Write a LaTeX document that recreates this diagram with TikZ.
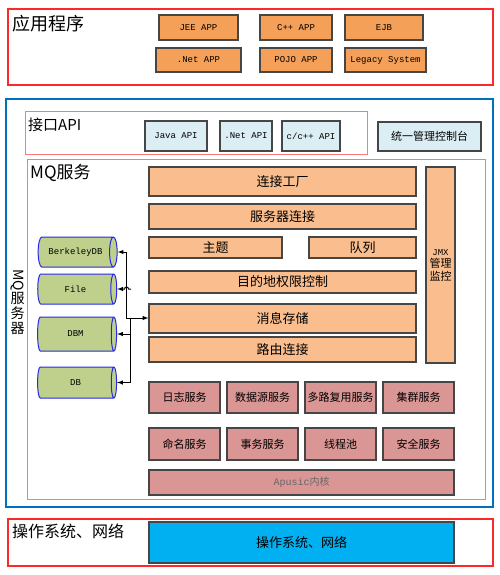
\documentclass[tikz,border=0pt]{standalone}
\usepackage{fontspec}
\setmainfont{Noto Sans CJK SC}
\setmonofont{Liberation Mono}
\usetikzlibrary{shapes.geometric}
\definecolor{apporange}{RGB}{244,160,88}
\definecolor{mqorange}{RGB}{250,190,142}
\definecolor{apiblue}{RGB}{219,238,244}
\definecolor{svcpink}{RGB}{218,150,148}
\definecolor{osblue}{RGB}{0,176,240}
\definecolor{cylgreen}{RGB}{190,208,140}
\definecolor{cylblue}{RGB}{40,40,235}
\definecolor{framered}{RGB}{255,40,40}
\definecolor{subred}{RGB}{255,120,120}
\definecolor{outerblue}{RGB}{0,112,192}
\definecolor{boxline}{RGB}{70,70,70}
\tikzset{>=latex}
\tikzset{
  wh/.style 2 args = {minimum width=#1, minimum height=#2},
  block/.style = {draw=boxline, line width=1.1pt, inner sep=0pt, align=center},
  appbox/.style = {block, fill=apporange, font=\ttfamily\fontsize{9}{10}\selectfont},
  apibox/.style = {block, fill=apiblue, font=\ttfamily\fontsize{9}{10}\selectfont},
  mqbox/.style = {block, fill=mqorange, font=\fontsize{13}{15}\selectfont},
  svcbox/.style = {block, fill=svcpink, font=\fontsize{11}{13}\selectfont},
  dbcyl/.style = {cylinder, draw=cylblue, fill=cylgreen, line width=1pt, aspect=0.9,
    inner sep=0pt, font=\ttfamily\fontsize{9}{10}\selectfont},
  frame/.style = {draw=framered, line width=1.6pt},
  subframe/.style = {draw=subred, line width=1pt},
  title/.style = {anchor=west, inner sep=0pt}
}

\begin{document}
\begin{tikzpicture}[x=1pt,y=-1pt]
  \useasboundingbox (0,0) rectangle (499,575);
  %
  \draw[frame] (8,9) rectangle (493,85);
  \node[title, font=\fontsize{18}{20}\selectfont] (apptitle) at (12,23.5) {应用程序};
  \node[appbox, wh={79}{25}] (jee) at (198.5,27.5) {JEE APP};
  \node[appbox, wh={72}{25}] (cpp) at (296,27.5) {C++ APP};
  \node[appbox, wh={78}{25}] (ejb) at (384,27.5) {EJB};
  \node[appbox, wh={85}{24}] (netapp) at (198.5,60) {.Net APP};
  \node[appbox, wh={72}{24}] (pojo) at (296,60) {POJO APP};
  \node[appbox, wh={81}{24}] (legacy) at (385.5,60) {Legacy System};
  %
  \draw[draw=outerblue, line width=2.4pt] (6,99) rectangle (493,507);
  \draw[subframe] (25,112) rectangle (367,154);
  \node[title, font=\fontsize{15}{17}\selectfont] (apititle) at (28,125) {接口API};
  \node[apibox, wh={62}{30}] (java) at (176,136) {Java API};
  \node[apibox, wh={52}{30}] (netapi) at (246,136) {.Net API};
  \node[apibox, wh={58}{30}] (capi) at (311,136) {c/c++ API};
  \node[apibox, wh={103}{29}, font=\fontsize{11}{13}\selectfont] (console) at (429.5,136.5) {统一管理控制台};
  %
  \node[inner sep=0pt, align=center, font=\fontsize{14}{15}\selectfont] (mqside) at (17.5,302)
    {\rotatebox{-90}{MQ}\\服\\务\\器};
  \draw[subframe] (27,159) rectangle (485,499);
  \node[title, font=\fontsize{17}{19}\selectfont] (mqtitle) at (30,172.5) {MQ服务};
  \node[mqbox, wh={267}{29}] (factory) at (282.5,181.5) {连接工厂};
  \node[mqbox, wh={267}{25}] (srvconn) at (282.5,216.5) {服务器连接};
  \node[mqbox, wh={133}{21}] (topic) at (215.5,247.5) {主题};
  \node[mqbox, wh={107}{21}] (queue) at (362.5,247.5) {队列};
  \node[mqbox, wh={267}{22}] (acl) at (282.5,282) {目的地权限控制};
  \node[mqbox, wh={267}{29}] (store) at (282.5,318.5) {消息存储};
  \node[mqbox, wh={267}{25}] (route) at (282.5,349.5) {路由连接};
  \node[mqbox, wh={29}{196}, font=\fontsize{11}{12.5}\selectfont] (jmx) at (440.5,265)
    {{\ttfamily\fontsize{9}{10}\selectfont JMX}\\管理\\监控};
  %
  \node[dbcyl, wh={30}{79}] (bdb) at (75.5,252) {BerkeleyDB};
  \node[dbcyl, wh={30}{79}] (file) at (75.5,289) {File};
  \node[dbcyl, wh={34}{79}] (dbm) at (75.5,334) {DBM};
  \node[dbcyl, wh={31}{79}] (db) at (75.5,382.5) {DB};
  \coordinate (jup) at (126,318);
  \coordinate (jdown) at (130,318);
  \coordinate (fstub) at (131,289);
  \draw[->, line width=1pt] (jup) |- (bdb.east);
  \draw[->, line width=1pt] (jup) -- (jup -| store.west);
  \draw[->, line width=1pt] (jdown) |- (db.east);
  \draw[->, line width=1pt] (jdown |- dbm.east) -- (dbm.east);
  \draw[->, line width=1pt] (fstub) -- ++(-2.5,0) arc[start angle=0, end angle=-180, radius=2] -- (file.east);
  %
  \node[svcbox, wh={71}{31}] (log) at (184.5,397.5) {日志服务};
  \node[svcbox, wh={71}{31}] (source) at (262.5,397.5) {数据源服务};
  \node[svcbox, wh={71}{31}] (mux) at (340.5,397.5) {多路复用服务};
  \node[svcbox, wh={71}{31}] (cluster) at (418.5,397.5) {集群服务};
  \node[svcbox, wh={71}{32}] (naming) at (184.5,444) {命名服务};
  \node[svcbox, wh={71}{32}] (trans) at (262.5,444) {事务服务};
  \node[svcbox, wh={71}{32}] (pool) at (340.5,444) {线程池};
  \node[svcbox, wh={71}{32}] (secure) at (418.5,444) {安全服务};
  \node[svcbox, wh={305}{25}, text=black!60, font=\fontsize{10}{12}\selectfont] (kernel) at (301.5,482.5)
    {{\ttfamily Apusic}内核};
  %
  \draw[frame] (8,519) rectangle (493,566);
  \node[title, font=\fontsize{16}{18}\selectfont] (ostitle) at (12,531) {操作系统、网络};
  \node[block, fill=osblue, wh={305}{41}, font=\fontsize{13}{15}\selectfont] (os) at (301.5,542.5) {操作系统、网络};
\end{tikzpicture}
\end{document}
